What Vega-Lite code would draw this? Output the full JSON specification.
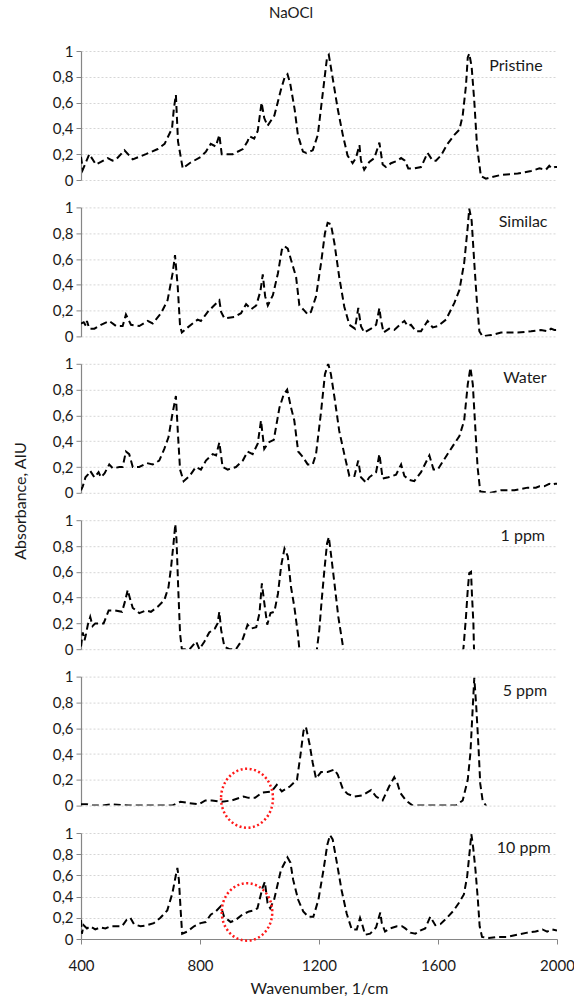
{
  "$schema": "https://vega.github.io/schema/vega-lite/v6.json",
  "padding": {"left": 13, "top": 6, "right": 5, "bottom": 3},
  "background": "white",
  "title": {"text": "Absorbance, AIU", "orient": "left", "anchor": "middle", "font": "Lato", "fontSize": 16, "fontWeight": "normal", "color": "#1a1a1a", "offset": 23},
  "bounds": "flush",
  "spacing": 27.4,
  "config": {
    "font": "Lato",
    "view": {"stroke": null},
    "axisY": {"grid": true, "gridColor": "#d6d6d6", "gridDash": [2, 2], "gridWidth": 1, "domainColor": "#868686", "domainWidth": 1.2, "tickColor": "#868686", "tickSize": 5, "labelFont": "Lato", "labelFontSize": 15, "labelColor": "#1a1a1a", "labelPadding": 3, "labelFlush": false, "labelOverlap": false, "tickCount": 5},
    "axisX": {"grid": false, "domainColor": "#868686", "domainWidth": 1.2, "tickColor": "#868686", "tickSize": 5, "labelFont": "Lato", "labelFontSize": 15, "labelColor": "#1a1a1a", "labelPadding": 14, "labelFlush": false, "labelOverlap": false, "titleFont": "Lato", "titleFontSize": 16, "titleFontWeight": "normal", "titleColor": "#1a1a1a", "titlePadding": 7}
  },
  "datasets": {
    "spectra": [
      {"sample":"Pristine","wavenumber":400,"absorbance":0.18},{"sample":"Pristine","wavenumber":406,"absorbance":0.08},{"sample":"Pristine","wavenumber":428,"absorbance":0.2},{"sample":"Pristine","wavenumber":450,"absorbance":0.12},{"sample":"Pristine","wavenumber":467,"absorbance":0.14},{"sample":"Pristine","wavenumber":490,"absorbance":0.17},{"sample":"Pristine","wavenumber":506,"absorbance":0.15},{"sample":"Pristine","wavenumber":518,"absorbance":0.16},{"sample":"Pristine","wavenumber":546,"absorbance":0.23},{"sample":"Pristine","wavenumber":574,"absorbance":0.16},{"sample":"Pristine","wavenumber":618,"absorbance":0.2},{"sample":"Pristine","wavenumber":658,"absorbance":0.24},{"sample":"Pristine","wavenumber":681,"absorbance":0.28},{"sample":"Pristine","wavenumber":706,"absorbance":0.4},{"sample":"Pristine","wavenumber":712,"absorbance":0.55},{"sample":"Pristine","wavenumber":719,"absorbance":0.66},{"sample":"Pristine","wavenumber":726,"absorbance":0.3},{"sample":"Pristine","wavenumber":742,"absorbance":0.09},{"sample":"Pristine","wavenumber":765,"absorbance":0.13},{"sample":"Pristine","wavenumber":803,"absorbance":0.18},{"sample":"Pristine","wavenumber":820,"absorbance":0.22},{"sample":"Pristine","wavenumber":836,"absorbance":0.28},{"sample":"Pristine","wavenumber":853,"absorbance":0.26},{"sample":"Pristine","wavenumber":865,"absorbance":0.35},{"sample":"Pristine","wavenumber":873,"absorbance":0.2},{"sample":"Pristine","wavenumber":910,"absorbance":0.2},{"sample":"Pristine","wavenumber":944,"absorbance":0.24},{"sample":"Pristine","wavenumber":960,"absorbance":0.3},{"sample":"Pristine","wavenumber":966,"absorbance":0.34},{"sample":"Pristine","wavenumber":982,"absorbance":0.32},{"sample":"Pristine","wavenumber":994,"absorbance":0.38},{"sample":"Pristine","wavenumber":1007,"absorbance":0.6},{"sample":"Pristine","wavenumber":1016,"absorbance":0.48},{"sample":"Pristine","wavenumber":1027,"absorbance":0.42},{"sample":"Pristine","wavenumber":1050,"absorbance":0.5},{"sample":"Pristine","wavenumber":1072,"absorbance":0.7},{"sample":"Pristine","wavenumber":1085,"absorbance":0.8},{"sample":"Pristine","wavenumber":1094,"absorbance":0.82},{"sample":"Pristine","wavenumber":1103,"absorbance":0.75},{"sample":"Pristine","wavenumber":1118,"absorbance":0.55},{"sample":"Pristine","wavenumber":1129,"absorbance":0.35},{"sample":"Pristine","wavenumber":1146,"absorbance":0.22},{"sample":"Pristine","wavenumber":1157,"absorbance":0.21},{"sample":"Pristine","wavenumber":1179,"absorbance":0.23},{"sample":"Pristine","wavenumber":1196,"absorbance":0.35},{"sample":"Pristine","wavenumber":1212,"absorbance":0.66},{"sample":"Pristine","wavenumber":1227,"absorbance":0.95},{"sample":"Pristine","wavenumber":1233,"absorbance":0.97},{"sample":"Pristine","wavenumber":1246,"absorbance":0.79},{"sample":"Pristine","wavenumber":1263,"absorbance":0.55},{"sample":"Pristine","wavenumber":1280,"absorbance":0.35},{"sample":"Pristine","wavenumber":1296,"absorbance":0.19},{"sample":"Pristine","wavenumber":1313,"absorbance":0.13},{"sample":"Pristine","wavenumber":1324,"absorbance":0.17},{"sample":"Pristine","wavenumber":1336,"absorbance":0.27},{"sample":"Pristine","wavenumber":1341,"absorbance":0.15},{"sample":"Pristine","wavenumber":1352,"absorbance":0.08},{"sample":"Pristine","wavenumber":1369,"absorbance":0.14},{"sample":"Pristine","wavenumber":1386,"absorbance":0.17},{"sample":"Pristine","wavenumber":1403,"absorbance":0.29},{"sample":"Pristine","wavenumber":1414,"absorbance":0.12},{"sample":"Pristine","wavenumber":1425,"absorbance":0.1},{"sample":"Pristine","wavenumber":1442,"absorbance":0.13},{"sample":"Pristine","wavenumber":1464,"absorbance":0.15},{"sample":"Pristine","wavenumber":1476,"absorbance":0.17},{"sample":"Pristine","wavenumber":1489,"absorbance":0.15},{"sample":"Pristine","wavenumber":1500,"absorbance":0.09},{"sample":"Pristine","wavenumber":1520,"absorbance":0.09},{"sample":"Pristine","wavenumber":1543,"absorbance":0.1},{"sample":"Pristine","wavenumber":1565,"absorbance":0.21},{"sample":"Pristine","wavenumber":1582,"absorbance":0.15},{"sample":"Pristine","wavenumber":1593,"absorbance":0.15},{"sample":"Pristine","wavenumber":1610,"absorbance":0.19},{"sample":"Pristine","wavenumber":1632,"absorbance":0.28},{"sample":"Pristine","wavenumber":1655,"absorbance":0.35},{"sample":"Pristine","wavenumber":1672,"absorbance":0.39},{"sample":"Pristine","wavenumber":1683,"absorbance":0.5},{"sample":"Pristine","wavenumber":1694,"absorbance":0.73},{"sample":"Pristine","wavenumber":1700,"absorbance":0.95},{"sample":"Pristine","wavenumber":1705,"absorbance":0.98},{"sample":"Pristine","wavenumber":1713,"absorbance":0.88},{"sample":"Pristine","wavenumber":1722,"absorbance":0.61},{"sample":"Pristine","wavenumber":1731,"absorbance":0.27},{"sample":"Pristine","wavenumber":1744,"absorbance":0.03},{"sample":"Pristine","wavenumber":1761,"absorbance":0.01},{"sample":"Pristine","wavenumber":1812,"absorbance":0.04},{"sample":"Pristine","wavenumber":1868,"absorbance":0.05},{"sample":"Pristine","wavenumber":1913,"absorbance":0.07},{"sample":"Pristine","wavenumber":1941,"absorbance":0.09},{"sample":"Pristine","wavenumber":1963,"absorbance":0.08},{"sample":"Pristine","wavenumber":1974,"absorbance":0.11},{"sample":"Pristine","wavenumber":1982,"absorbance":0.09},{"sample":"Pristine","wavenumber":1993,"absorbance":0.1},{"sample":"Pristine","wavenumber":2000,"absorbance":0.1},

      {"sample":"Similac","wavenumber":400,"absorbance":0.1},{"sample":"Similac","wavenumber":409,"absorbance":0.11},{"sample":"Similac","wavenumber":417,"absorbance":0.08},{"sample":"Similac","wavenumber":420,"absorbance":0.12},{"sample":"Similac","wavenumber":428,"absorbance":0.06},{"sample":"Similac","wavenumber":445,"absorbance":0.06},{"sample":"Similac","wavenumber":467,"absorbance":0.09},{"sample":"Similac","wavenumber":495,"absorbance":0.12},{"sample":"Similac","wavenumber":518,"absorbance":0.08},{"sample":"Similac","wavenumber":540,"absorbance":0.08},{"sample":"Similac","wavenumber":551,"absorbance":0.17},{"sample":"Similac","wavenumber":568,"absorbance":0.09},{"sample":"Similac","wavenumber":596,"absorbance":0.08},{"sample":"Similac","wavenumber":624,"absorbance":0.12},{"sample":"Similac","wavenumber":641,"absorbance":0.1},{"sample":"Similac","wavenumber":669,"absorbance":0.18},{"sample":"Similac","wavenumber":691,"absorbance":0.28},{"sample":"Similac","wavenumber":708,"absorbance":0.49},{"sample":"Similac","wavenumber":716,"absorbance":0.63},{"sample":"Similac","wavenumber":725,"absorbance":0.39},{"sample":"Similac","wavenumber":733,"absorbance":0.08},{"sample":"Similac","wavenumber":739,"absorbance":0.03},{"sample":"Similac","wavenumber":759,"absorbance":0.07},{"sample":"Similac","wavenumber":792,"absorbance":0.13},{"sample":"Similac","wavenumber":803,"absorbance":0.12},{"sample":"Similac","wavenumber":826,"absorbance":0.19},{"sample":"Similac","wavenumber":843,"absorbance":0.23},{"sample":"Similac","wavenumber":865,"absorbance":0.28},{"sample":"Similac","wavenumber":871,"absorbance":0.19},{"sample":"Similac","wavenumber":882,"absorbance":0.14},{"sample":"Similac","wavenumber":916,"absorbance":0.15},{"sample":"Similac","wavenumber":938,"absorbance":0.18},{"sample":"Similac","wavenumber":955,"absorbance":0.25},{"sample":"Similac","wavenumber":972,"absorbance":0.21},{"sample":"Similac","wavenumber":989,"absorbance":0.24},{"sample":"Similac","wavenumber":1003,"absorbance":0.35},{"sample":"Similac","wavenumber":1011,"absorbance":0.48},{"sample":"Similac","wavenumber":1019,"absorbance":0.31},{"sample":"Similac","wavenumber":1028,"absorbance":0.24},{"sample":"Similac","wavenumber":1045,"absorbance":0.32},{"sample":"Similac","wavenumber":1062,"absorbance":0.49},{"sample":"Similac","wavenumber":1075,"absorbance":0.67},{"sample":"Similac","wavenumber":1084,"absorbance":0.7},{"sample":"Similac","wavenumber":1095,"absorbance":0.68},{"sample":"Similac","wavenumber":1109,"absorbance":0.57},{"sample":"Similac","wavenumber":1123,"absorbance":0.46},{"sample":"Similac","wavenumber":1134,"absorbance":0.24},{"sample":"Similac","wavenumber":1151,"absorbance":0.2},{"sample":"Similac","wavenumber":1162,"absorbance":0.17},{"sample":"Similac","wavenumber":1173,"absorbance":0.19},{"sample":"Similac","wavenumber":1190,"absorbance":0.31},{"sample":"Similac","wavenumber":1207,"absorbance":0.57},{"sample":"Similac","wavenumber":1220,"absorbance":0.8},{"sample":"Similac","wavenumber":1229,"absorbance":0.88},{"sample":"Similac","wavenumber":1240,"absorbance":0.87},{"sample":"Similac","wavenumber":1252,"absorbance":0.72},{"sample":"Similac","wavenumber":1268,"absorbance":0.46},{"sample":"Similac","wavenumber":1285,"absorbance":0.23},{"sample":"Similac","wavenumber":1302,"absorbance":0.09},{"sample":"Similac","wavenumber":1321,"absorbance":0.06},{"sample":"Similac","wavenumber":1332,"absorbance":0.22},{"sample":"Similac","wavenumber":1341,"absorbance":0.08},{"sample":"Similac","wavenumber":1352,"absorbance":0.03},{"sample":"Similac","wavenumber":1375,"absorbance":0.06},{"sample":"Similac","wavenumber":1392,"absorbance":0.09},{"sample":"Similac","wavenumber":1403,"absorbance":0.22},{"sample":"Similac","wavenumber":1408,"absorbance":0.13},{"sample":"Similac","wavenumber":1417,"absorbance":0.03},{"sample":"Similac","wavenumber":1436,"absorbance":0.06},{"sample":"Similac","wavenumber":1453,"absorbance":0.05},{"sample":"Similac","wavenumber":1476,"absorbance":0.1},{"sample":"Similac","wavenumber":1487,"absorbance":0.12},{"sample":"Similac","wavenumber":1498,"absorbance":0.08},{"sample":"Similac","wavenumber":1509,"absorbance":0.09},{"sample":"Similac","wavenumber":1526,"absorbance":0.04},{"sample":"Similac","wavenumber":1543,"absorbance":0.04},{"sample":"Similac","wavenumber":1565,"absorbance":0.12},{"sample":"Similac","wavenumber":1582,"absorbance":0.07},{"sample":"Similac","wavenumber":1599,"absorbance":0.08},{"sample":"Similac","wavenumber":1627,"absorbance":0.13},{"sample":"Similac","wavenumber":1655,"absorbance":0.26},{"sample":"Similac","wavenumber":1672,"absorbance":0.36},{"sample":"Similac","wavenumber":1688,"absorbance":0.57},{"sample":"Similac","wavenumber":1700,"absorbance":0.85},{"sample":"Similac","wavenumber":1705,"absorbance":0.99},{"sample":"Similac","wavenumber":1713,"absorbance":0.9},{"sample":"Similac","wavenumber":1722,"absorbance":0.57},{"sample":"Similac","wavenumber":1731,"absorbance":0.26},{"sample":"Similac","wavenumber":1739,"absorbance":0.04},{"sample":"Similac","wavenumber":1750,"absorbance":0.0},{"sample":"Similac","wavenumber":1778,"absorbance":0.01},{"sample":"Similac","wavenumber":1812,"absorbance":0.03},{"sample":"Similac","wavenumber":1868,"absorbance":0.03},{"sample":"Similac","wavenumber":1913,"absorbance":0.04},{"sample":"Similac","wavenumber":1946,"absorbance":0.05},{"sample":"Similac","wavenumber":1969,"absorbance":0.04},{"sample":"Similac","wavenumber":1980,"absorbance":0.06},{"sample":"Similac","wavenumber":1991,"absorbance":0.05},{"sample":"Similac","wavenumber":2000,"absorbance":0.05},

      {"sample":"Water","wavenumber":400,"absorbance":0.02},{"sample":"Water","wavenumber":406,"absorbance":0.05},{"sample":"Water","wavenumber":415,"absorbance":0.12},{"sample":"Water","wavenumber":423,"absorbance":0.14},{"sample":"Water","wavenumber":431,"absorbance":0.17},{"sample":"Water","wavenumber":445,"absorbance":0.12},{"sample":"Water","wavenumber":459,"absorbance":0.16},{"sample":"Water","wavenumber":467,"absorbance":0.12},{"sample":"Water","wavenumber":479,"absorbance":0.15},{"sample":"Water","wavenumber":495,"absorbance":0.22},{"sample":"Water","wavenumber":507,"absorbance":0.19},{"sample":"Water","wavenumber":529,"absorbance":0.2},{"sample":"Water","wavenumber":540,"absorbance":0.2},{"sample":"Water","wavenumber":551,"absorbance":0.32},{"sample":"Water","wavenumber":562,"absorbance":0.3},{"sample":"Water","wavenumber":574,"absorbance":0.2},{"sample":"Water","wavenumber":596,"absorbance":0.2},{"sample":"Water","wavenumber":622,"absorbance":0.23},{"sample":"Water","wavenumber":641,"absorbance":0.22},{"sample":"Water","wavenumber":663,"absorbance":0.25},{"sample":"Water","wavenumber":680,"absorbance":0.34},{"sample":"Water","wavenumber":694,"absorbance":0.43},{"sample":"Water","wavenumber":708,"absorbance":0.62},{"sample":"Water","wavenumber":719,"absorbance":0.75},{"sample":"Water","wavenumber":726,"absorbance":0.45},{"sample":"Water","wavenumber":733,"absorbance":0.18},{"sample":"Water","wavenumber":745,"absorbance":0.09},{"sample":"Water","wavenumber":765,"absorbance":0.13},{"sample":"Water","wavenumber":786,"absorbance":0.2},{"sample":"Water","wavenumber":803,"absorbance":0.18},{"sample":"Water","wavenumber":820,"absorbance":0.25},{"sample":"Water","wavenumber":843,"absorbance":0.3},{"sample":"Water","wavenumber":854,"absorbance":0.29},{"sample":"Water","wavenumber":865,"absorbance":0.39},{"sample":"Water","wavenumber":876,"absorbance":0.2},{"sample":"Water","wavenumber":893,"absorbance":0.18},{"sample":"Water","wavenumber":921,"absorbance":0.2},{"sample":"Water","wavenumber":944,"absorbance":0.25},{"sample":"Water","wavenumber":960,"absorbance":0.32},{"sample":"Water","wavenumber":977,"absorbance":0.3},{"sample":"Water","wavenumber":994,"absorbance":0.38},{"sample":"Water","wavenumber":1005,"absorbance":0.56},{"sample":"Water","wavenumber":1016,"absorbance":0.34},{"sample":"Water","wavenumber":1030,"absorbance":0.39},{"sample":"Water","wavenumber":1048,"absorbance":0.41},{"sample":"Water","wavenumber":1067,"absorbance":0.66},{"sample":"Water","wavenumber":1081,"absorbance":0.76},{"sample":"Water","wavenumber":1093,"absorbance":0.8},{"sample":"Water","wavenumber":1106,"absorbance":0.66},{"sample":"Water","wavenumber":1117,"absorbance":0.56},{"sample":"Water","wavenumber":1130,"absorbance":0.32},{"sample":"Water","wavenumber":1145,"absorbance":0.28},{"sample":"Water","wavenumber":1162,"absorbance":0.22},{"sample":"Water","wavenumber":1179,"absorbance":0.22},{"sample":"Water","wavenumber":1190,"absorbance":0.3},{"sample":"Water","wavenumber":1207,"absorbance":0.63},{"sample":"Water","wavenumber":1220,"absorbance":0.92},{"sample":"Water","wavenumber":1231,"absorbance":1.0},{"sample":"Water","wavenumber":1240,"absorbance":0.92},{"sample":"Water","wavenumber":1252,"absorbance":0.74},{"sample":"Water","wavenumber":1268,"absorbance":0.48},{"sample":"Water","wavenumber":1285,"absorbance":0.3},{"sample":"Water","wavenumber":1302,"absorbance":0.13},{"sample":"Water","wavenumber":1319,"absorbance":0.13},{"sample":"Water","wavenumber":1332,"absorbance":0.25},{"sample":"Water","wavenumber":1341,"absorbance":0.12},{"sample":"Water","wavenumber":1358,"absorbance":0.08},{"sample":"Water","wavenumber":1369,"absorbance":0.12},{"sample":"Water","wavenumber":1392,"absorbance":0.16},{"sample":"Water","wavenumber":1403,"absorbance":0.3},{"sample":"Water","wavenumber":1414,"absorbance":0.11},{"sample":"Water","wavenumber":1433,"absorbance":0.12},{"sample":"Water","wavenumber":1459,"absorbance":0.14},{"sample":"Water","wavenumber":1476,"absorbance":0.22},{"sample":"Water","wavenumber":1487,"absorbance":0.13},{"sample":"Water","wavenumber":1504,"absorbance":0.1},{"sample":"Water","wavenumber":1520,"absorbance":0.09},{"sample":"Water","wavenumber":1543,"absorbance":0.16},{"sample":"Water","wavenumber":1571,"absorbance":0.29},{"sample":"Water","wavenumber":1585,"absorbance":0.18},{"sample":"Water","wavenumber":1599,"absorbance":0.18},{"sample":"Water","wavenumber":1621,"absorbance":0.26},{"sample":"Water","wavenumber":1649,"absorbance":0.36},{"sample":"Water","wavenumber":1672,"absorbance":0.44},{"sample":"Water","wavenumber":1688,"absorbance":0.56},{"sample":"Water","wavenumber":1700,"absorbance":0.84},{"sample":"Water","wavenumber":1709,"absorbance":0.97},{"sample":"Water","wavenumber":1717,"absorbance":0.84},{"sample":"Water","wavenumber":1724,"absorbance":0.56},{"sample":"Water","wavenumber":1733,"absorbance":0.2},{"sample":"Water","wavenumber":1742,"absorbance":0.01},{"sample":"Water","wavenumber":1778,"absorbance":0.0},{"sample":"Water","wavenumber":1812,"absorbance":0.02},{"sample":"Water","wavenumber":1857,"absorbance":0.02},{"sample":"Water","wavenumber":1901,"absorbance":0.04},{"sample":"Water","wavenumber":1929,"absorbance":0.04},{"sample":"Water","wavenumber":1941,"absorbance":0.05},{"sample":"Water","wavenumber":1957,"absorbance":0.05},{"sample":"Water","wavenumber":1974,"absorbance":0.07},{"sample":"Water","wavenumber":1985,"absorbance":0.06},{"sample":"Water","wavenumber":1993,"absorbance":0.07},{"sample":"Water","wavenumber":2000,"absorbance":0.07},

      {"sample":"1 ppm","wavenumber":400,"absorbance":0.02},{"sample":"1 ppm","wavenumber":406,"absorbance":0.13},{"sample":"1 ppm","wavenumber":412,"absorbance":0.07},{"sample":"1 ppm","wavenumber":417,"absorbance":0.12},{"sample":"1 ppm","wavenumber":423,"absorbance":0.19},{"sample":"1 ppm","wavenumber":431,"absorbance":0.25},{"sample":"1 ppm","wavenumber":439,"absorbance":0.18},{"sample":"1 ppm","wavenumber":448,"absorbance":0.2},{"sample":"1 ppm","wavenumber":459,"absorbance":0.2},{"sample":"1 ppm","wavenumber":476,"absorbance":0.2},{"sample":"1 ppm","wavenumber":493,"absorbance":0.3},{"sample":"1 ppm","wavenumber":515,"absorbance":0.3},{"sample":"1 ppm","wavenumber":538,"absorbance":0.29},{"sample":"1 ppm","wavenumber":549,"absorbance":0.38},{"sample":"1 ppm","wavenumber":557,"absorbance":0.46},{"sample":"1 ppm","wavenumber":565,"absorbance":0.39},{"sample":"1 ppm","wavenumber":574,"absorbance":0.32},{"sample":"1 ppm","wavenumber":596,"absorbance":0.28},{"sample":"1 ppm","wavenumber":618,"absorbance":0.3},{"sample":"1 ppm","wavenumber":635,"absorbance":0.29},{"sample":"1 ppm","wavenumber":658,"absorbance":0.33},{"sample":"1 ppm","wavenumber":680,"absorbance":0.38},{"sample":"1 ppm","wavenumber":694,"absorbance":0.48},{"sample":"1 ppm","wavenumber":703,"absorbance":0.64},{"sample":"1 ppm","wavenumber":711,"absorbance":0.82},{"sample":"1 ppm","wavenumber":717,"absorbance":0.97},{"sample":"1 ppm","wavenumber":721,"absorbance":0.85},{"sample":"1 ppm","wavenumber":727,"absorbance":0.46},{"sample":"1 ppm","wavenumber":733,"absorbance":0.12},{"sample":"1 ppm","wavenumber":739,"absorbance":0.0},{"sample":"1 ppm","wavenumber":765,"absorbance":0.0},{"sample":"1 ppm","wavenumber":787,"absorbance":0.06},{"sample":"1 ppm","wavenumber":798,"absorbance":0.0},{"sample":"1 ppm","wavenumber":815,"absorbance":0.06},{"sample":"1 ppm","wavenumber":831,"absorbance":0.13},{"sample":"1 ppm","wavenumber":850,"absorbance":0.16},{"sample":"1 ppm","wavenumber":859,"absorbance":0.2},{"sample":"1 ppm","wavenumber":865,"absorbance":0.29},{"sample":"1 ppm","wavenumber":871,"absorbance":0.15},{"sample":"1 ppm","wavenumber":882,"absorbance":0.02},{"sample":"1 ppm","wavenumber":899,"absorbance":0.0},{"sample":"1 ppm","wavenumber":921,"absorbance":0.0},{"sample":"1 ppm","wavenumber":944,"absorbance":0.08},{"sample":"1 ppm","wavenumber":960,"absorbance":0.19},{"sample":"1 ppm","wavenumber":972,"absorbance":0.16},{"sample":"1 ppm","wavenumber":989,"absorbance":0.17},{"sample":"1 ppm","wavenumber":1000,"absorbance":0.28},{"sample":"1 ppm","wavenumber":1008,"absorbance":0.51},{"sample":"1 ppm","wavenumber":1015,"absorbance":0.38},{"sample":"1 ppm","wavenumber":1026,"absorbance":0.19},{"sample":"1 ppm","wavenumber":1037,"absorbance":0.28},{"sample":"1 ppm","wavenumber":1050,"absorbance":0.29},{"sample":"1 ppm","wavenumber":1062,"absorbance":0.43},{"sample":"1 ppm","wavenumber":1073,"absorbance":0.65},{"sample":"1 ppm","wavenumber":1084,"absorbance":0.78},{"sample":"1 ppm","wavenumber":1095,"absorbance":0.72},{"sample":"1 ppm","wavenumber":1106,"absorbance":0.48},{"sample":"1 ppm","wavenumber":1117,"absorbance":0.33},{"sample":"1 ppm","wavenumber":1129,"absorbance":0.12},{"sample":"1 ppm","wavenumber":1134,"absorbance":0.0},{"sample":"1 ppm","wavenumber":1160,"absorbance":-0.3},{"sample":"1 ppm","wavenumber":1180,"absorbance":-0.3},{"sample":"1 ppm","wavenumber":1193,"absorbance":0.0},{"sample":"1 ppm","wavenumber":1201,"absorbance":0.15},{"sample":"1 ppm","wavenumber":1209,"absorbance":0.38},{"sample":"1 ppm","wavenumber":1218,"absorbance":0.61},{"sample":"1 ppm","wavenumber":1227,"absorbance":0.82},{"sample":"1 ppm","wavenumber":1233,"absorbance":0.87},{"sample":"1 ppm","wavenumber":1240,"absorbance":0.74},{"sample":"1 ppm","wavenumber":1252,"absorbance":0.51},{"sample":"1 ppm","wavenumber":1265,"absorbance":0.25},{"sample":"1 ppm","wavenumber":1280,"absorbance":0.03},{"sample":"1 ppm","wavenumber":1295,"absorbance":-0.3},{"sample":"1 ppm","wavenumber":1670,"absorbance":-0.3},{"sample":"1 ppm","wavenumber":1686,"absorbance":0.02},{"sample":"1 ppm","wavenumber":1694,"absorbance":0.25},{"sample":"1 ppm","wavenumber":1700,"absorbance":0.46},{"sample":"1 ppm","wavenumber":1705,"absorbance":0.59},{"sample":"1 ppm","wavenumber":1711,"absorbance":0.6},{"sample":"1 ppm","wavenumber":1714,"absorbance":0.43},{"sample":"1 ppm","wavenumber":1719,"absorbance":0.2},{"sample":"1 ppm","wavenumber":1721,"absorbance":0.0},{"sample":"1 ppm","wavenumber":1740,"absorbance":-0.3},{"sample":"1 ppm","wavenumber":2000,"absorbance":-0.3},

      {"sample":"5 ppm","wavenumber":400,"absorbance":0.01},{"sample":"5 ppm","wavenumber":420,"absorbance":0.01},{"sample":"5 ppm","wavenumber":437,"absorbance":0.0},{"sample":"5 ppm","wavenumber":470,"absorbance":0.0},{"sample":"5 ppm","wavenumber":504,"absorbance":0.01},{"sample":"5 ppm","wavenumber":560,"absorbance":0.0},{"sample":"5 ppm","wavenumber":706,"absorbance":0.0},{"sample":"5 ppm","wavenumber":734,"absorbance":0.03},{"sample":"5 ppm","wavenumber":762,"absorbance":0.02},{"sample":"5 ppm","wavenumber":796,"absorbance":0.01},{"sample":"5 ppm","wavenumber":818,"absorbance":0.04},{"sample":"5 ppm","wavenumber":840,"absorbance":0.04},{"sample":"5 ppm","wavenumber":874,"absorbance":0.03},{"sample":"5 ppm","wavenumber":907,"absorbance":0.04},{"sample":"5 ppm","wavenumber":946,"absorbance":0.07},{"sample":"5 ppm","wavenumber":963,"absorbance":0.06},{"sample":"5 ppm","wavenumber":985,"absorbance":0.06},{"sample":"5 ppm","wavenumber":1008,"absorbance":0.1},{"sample":"5 ppm","wavenumber":1041,"absorbance":0.11},{"sample":"5 ppm","wavenumber":1058,"absorbance":0.16},{"sample":"5 ppm","wavenumber":1075,"absorbance":0.11},{"sample":"5 ppm","wavenumber":1103,"absorbance":0.15},{"sample":"5 ppm","wavenumber":1126,"absorbance":0.2},{"sample":"5 ppm","wavenumber":1137,"absorbance":0.38},{"sample":"5 ppm","wavenumber":1148,"absorbance":0.58},{"sample":"5 ppm","wavenumber":1156,"absorbance":0.61},{"sample":"5 ppm","wavenumber":1168,"absorbance":0.48},{"sample":"5 ppm","wavenumber":1179,"absorbance":0.33},{"sample":"5 ppm","wavenumber":1190,"absorbance":0.21},{"sample":"5 ppm","wavenumber":1207,"absorbance":0.26},{"sample":"5 ppm","wavenumber":1229,"absorbance":0.26},{"sample":"5 ppm","wavenumber":1252,"absorbance":0.28},{"sample":"5 ppm","wavenumber":1263,"absorbance":0.24},{"sample":"5 ppm","wavenumber":1280,"absorbance":0.13},{"sample":"5 ppm","wavenumber":1296,"absorbance":0.09},{"sample":"5 ppm","wavenumber":1319,"absorbance":0.07},{"sample":"5 ppm","wavenumber":1347,"absorbance":0.08},{"sample":"5 ppm","wavenumber":1375,"absorbance":0.12},{"sample":"5 ppm","wavenumber":1392,"absorbance":0.07},{"sample":"5 ppm","wavenumber":1414,"absorbance":0.04},{"sample":"5 ppm","wavenumber":1436,"absorbance":0.15},{"sample":"5 ppm","wavenumber":1453,"absorbance":0.22},{"sample":"5 ppm","wavenumber":1464,"absorbance":0.17},{"sample":"5 ppm","wavenumber":1473,"absorbance":0.1},{"sample":"5 ppm","wavenumber":1492,"absorbance":0.04},{"sample":"5 ppm","wavenumber":1515,"absorbance":0.0},{"sample":"5 ppm","wavenumber":1565,"absorbance":0.0},{"sample":"5 ppm","wavenumber":1610,"absorbance":0.0},{"sample":"5 ppm","wavenumber":1660,"absorbance":0.0},{"sample":"5 ppm","wavenumber":1683,"absorbance":0.04},{"sample":"5 ppm","wavenumber":1700,"absorbance":0.2},{"sample":"5 ppm","wavenumber":1709,"absorbance":0.41},{"sample":"5 ppm","wavenumber":1717,"absorbance":0.77},{"sample":"5 ppm","wavenumber":1722,"absorbance":0.99},{"sample":"5 ppm","wavenumber":1728,"absorbance":0.79},{"sample":"5 ppm","wavenumber":1736,"absorbance":0.46},{"sample":"5 ppm","wavenumber":1742,"absorbance":0.17},{"sample":"5 ppm","wavenumber":1750,"absorbance":0.04},{"sample":"5 ppm","wavenumber":1761,"absorbance":0.0},{"sample":"5 ppm","wavenumber":1775,"absorbance":-0.2},{"sample":"5 ppm","wavenumber":2000,"absorbance":-0.2},

      {"sample":"10 ppm","wavenumber":400,"absorbance":0.18},{"sample":"10 ppm","wavenumber":403,"absorbance":0.05},{"sample":"10 ppm","wavenumber":409,"absorbance":0.13},{"sample":"10 ppm","wavenumber":420,"absorbance":0.1},{"sample":"10 ppm","wavenumber":431,"absorbance":0.12},{"sample":"10 ppm","wavenumber":448,"absorbance":0.09},{"sample":"10 ppm","wavenumber":465,"absorbance":0.11},{"sample":"10 ppm","wavenumber":482,"absorbance":0.1},{"sample":"10 ppm","wavenumber":499,"absorbance":0.12},{"sample":"10 ppm","wavenumber":521,"absorbance":0.12},{"sample":"10 ppm","wavenumber":538,"absorbance":0.12},{"sample":"10 ppm","wavenumber":553,"absorbance":0.18},{"sample":"10 ppm","wavenumber":566,"absorbance":0.2},{"sample":"10 ppm","wavenumber":578,"absorbance":0.14},{"sample":"10 ppm","wavenumber":600,"absorbance":0.12},{"sample":"10 ppm","wavenumber":622,"absorbance":0.13},{"sample":"10 ppm","wavenumber":645,"absorbance":0.15},{"sample":"10 ppm","wavenumber":667,"absorbance":0.2},{"sample":"10 ppm","wavenumber":690,"absorbance":0.27},{"sample":"10 ppm","wavenumber":707,"absorbance":0.43},{"sample":"10 ppm","wavenumber":718,"absorbance":0.59},{"sample":"10 ppm","wavenumber":724,"absorbance":0.67},{"sample":"10 ppm","wavenumber":729,"absorbance":0.56},{"sample":"10 ppm","wavenumber":735,"absorbance":0.27},{"sample":"10 ppm","wavenumber":740,"absorbance":0.05},{"sample":"10 ppm","wavenumber":757,"absorbance":0.07},{"sample":"10 ppm","wavenumber":780,"absorbance":0.12},{"sample":"10 ppm","wavenumber":802,"absorbance":0.15},{"sample":"10 ppm","wavenumber":819,"absorbance":0.16},{"sample":"10 ppm","wavenumber":836,"absorbance":0.23},{"sample":"10 ppm","wavenumber":853,"absorbance":0.26},{"sample":"10 ppm","wavenumber":870,"absorbance":0.31},{"sample":"10 ppm","wavenumber":881,"absorbance":0.21},{"sample":"10 ppm","wavenumber":903,"absorbance":0.16},{"sample":"10 ppm","wavenumber":920,"absorbance":0.18},{"sample":"10 ppm","wavenumber":942,"absorbance":0.23},{"sample":"10 ppm","wavenumber":965,"absorbance":0.26},{"sample":"10 ppm","wavenumber":982,"absorbance":0.27},{"sample":"10 ppm","wavenumber":993,"absorbance":0.29},{"sample":"10 ppm","wavenumber":1010,"absorbance":0.48},{"sample":"10 ppm","wavenumber":1018,"absorbance":0.54},{"sample":"10 ppm","wavenumber":1027,"absorbance":0.34},{"sample":"10 ppm","wavenumber":1036,"absorbance":0.29},{"sample":"10 ppm","wavenumber":1049,"absorbance":0.37},{"sample":"10 ppm","wavenumber":1072,"absorbance":0.65},{"sample":"10 ppm","wavenumber":1094,"absorbance":0.77},{"sample":"10 ppm","wavenumber":1104,"absorbance":0.72},{"sample":"10 ppm","wavenumber":1113,"absorbance":0.56},{"sample":"10 ppm","wavenumber":1130,"absorbance":0.37},{"sample":"10 ppm","wavenumber":1147,"absorbance":0.26},{"sample":"10 ppm","wavenumber":1164,"absorbance":0.21},{"sample":"10 ppm","wavenumber":1181,"absorbance":0.21},{"sample":"10 ppm","wavenumber":1198,"absorbance":0.37},{"sample":"10 ppm","wavenumber":1215,"absorbance":0.65},{"sample":"10 ppm","wavenumber":1228,"absorbance":0.89},{"sample":"10 ppm","wavenumber":1237,"absorbance":0.98},{"sample":"10 ppm","wavenumber":1246,"absorbance":0.94},{"sample":"10 ppm","wavenumber":1260,"absorbance":0.72},{"sample":"10 ppm","wavenumber":1276,"absorbance":0.46},{"sample":"10 ppm","wavenumber":1293,"absorbance":0.24},{"sample":"10 ppm","wavenumber":1310,"absorbance":0.09},{"sample":"10 ppm","wavenumber":1327,"absorbance":0.09},{"sample":"10 ppm","wavenumber":1338,"absorbance":0.2},{"sample":"10 ppm","wavenumber":1344,"absorbance":0.15},{"sample":"10 ppm","wavenumber":1355,"absorbance":0.04},{"sample":"10 ppm","wavenumber":1372,"absorbance":0.05},{"sample":"10 ppm","wavenumber":1392,"absorbance":0.11},{"sample":"10 ppm","wavenumber":1406,"absorbance":0.25},{"sample":"10 ppm","wavenumber":1411,"absorbance":0.15},{"sample":"10 ppm","wavenumber":1422,"absorbance":0.07},{"sample":"10 ppm","wavenumber":1439,"absorbance":0.1},{"sample":"10 ppm","wavenumber":1462,"absorbance":0.12},{"sample":"10 ppm","wavenumber":1479,"absorbance":0.12},{"sample":"10 ppm","wavenumber":1490,"absorbance":0.1},{"sample":"10 ppm","wavenumber":1507,"absorbance":0.06},{"sample":"10 ppm","wavenumber":1524,"absorbance":0.05},{"sample":"10 ppm","wavenumber":1540,"absorbance":0.08},{"sample":"10 ppm","wavenumber":1557,"absorbance":0.1},{"sample":"10 ppm","wavenumber":1574,"absorbance":0.21},{"sample":"10 ppm","wavenumber":1591,"absorbance":0.13},{"sample":"10 ppm","wavenumber":1608,"absorbance":0.14},{"sample":"10 ppm","wavenumber":1630,"absorbance":0.2},{"sample":"10 ppm","wavenumber":1653,"absorbance":0.27},{"sample":"10 ppm","wavenumber":1670,"absorbance":0.34},{"sample":"10 ppm","wavenumber":1687,"absorbance":0.42},{"sample":"10 ppm","wavenumber":1698,"absorbance":0.59},{"sample":"10 ppm","wavenumber":1707,"absorbance":0.84},{"sample":"10 ppm","wavenumber":1712,"absorbance":0.99},{"sample":"10 ppm","wavenumber":1718,"absorbance":0.87},{"sample":"10 ppm","wavenumber":1726,"absorbance":0.65},{"sample":"10 ppm","wavenumber":1734,"absorbance":0.37},{"sample":"10 ppm","wavenumber":1740,"absorbance":0.12},{"sample":"10 ppm","wavenumber":1748,"absorbance":0.02},{"sample":"10 ppm","wavenumber":1771,"absorbance":0.01},{"sample":"10 ppm","wavenumber":1799,"absorbance":0.02},{"sample":"10 ppm","wavenumber":1833,"absorbance":0.02},{"sample":"10 ppm","wavenumber":1866,"absorbance":0.04},{"sample":"10 ppm","wavenumber":1900,"absorbance":0.06},{"sample":"10 ppm","wavenumber":1928,"absorbance":0.07},{"sample":"10 ppm","wavenumber":1951,"absorbance":0.09},{"sample":"10 ppm","wavenumber":1967,"absorbance":0.07},{"sample":"10 ppm","wavenumber":1984,"absorbance":0.09},{"sample":"10 ppm","wavenumber":2000,"absorbance":0.08}
    ]
  },
  "vconcat": [
    {
      "width": 476, "height": 129,
      "title": {"text": "NaOCl", "anchor": "middle", "font": "Lato", "fontSize": 15, "fontWeight": "normal", "color": "#1a1a1a", "offset": 23, "dx": -28},
      "layer": [
        {"data": {"name": "spectra"}, "transform": [{"filter": "datum.sample === 'Pristine'"}], "mark": {"type": "line", "color": "#000000", "strokeWidth": 2, "strokeDash": [7, 4], "clip": true}, "encoding": {"x": {"field": "wavenumber", "type": "quantitative", "scale": {"domain": [400, 2000]}, "axis": null}, "y": {"field": "absorbance", "type": "quantitative", "scale": {"domain": [0, 1]}, "title": null, "axis": {"tickCount": 5, "labelOverlap": false, "labelExpr": "replace(format(datum.value,'.1~f'),'.',',')"}}}},
        {"data": {"values": [{"label": "Pristine"}]}, "mark": {"type": "text", "font": "Lato", "fontSize": 16, "color": "#1a1a1a", "align": "center", "baseline": "middle"}, "encoding": {"x": {"datum": 1862}, "y": {"datum": 0.88}, "text": {"field": "label"}}}
      ]
    },
    {
      "width": 476, "height": 129,
      "layer": [
        {"data": {"name": "spectra"}, "transform": [{"filter": "datum.sample === 'Similac'"}], "mark": {"type": "line", "color": "#000000", "strokeWidth": 2, "strokeDash": [7, 4], "clip": true}, "encoding": {"x": {"field": "wavenumber", "type": "quantitative", "scale": {"domain": [400, 2000]}, "axis": null}, "y": {"field": "absorbance", "type": "quantitative", "scale": {"domain": [0, 1]}, "title": null, "axis": {"tickCount": 5, "labelOverlap": false, "labelExpr": "replace(format(datum.value,'.1~f'),'.',',')"}}}},
        {"data": {"values": [{"label": "Similac"}]}, "mark": {"type": "text", "font": "Lato", "fontSize": 16, "color": "#1a1a1a", "align": "center", "baseline": "middle"}, "encoding": {"x": {"datum": 1886}, "y": {"datum": 0.89}, "text": {"field": "label"}}}
      ]
    },
    {
      "width": 476, "height": 129,
      "layer": [
        {"data": {"name": "spectra"}, "transform": [{"filter": "datum.sample === 'Water'"}], "mark": {"type": "line", "color": "#000000", "strokeWidth": 2, "strokeDash": [7, 4], "clip": true}, "encoding": {"x": {"field": "wavenumber", "type": "quantitative", "scale": {"domain": [400, 2000]}, "axis": null}, "y": {"field": "absorbance", "type": "quantitative", "scale": {"domain": [0, 1]}, "title": null, "axis": {"tickCount": 5, "labelOverlap": false, "labelExpr": "replace(format(datum.value,'.1~f'),'.',',')"}}}},
        {"data": {"values": [{"label": "Water"}]}, "mark": {"type": "text", "font": "Lato", "fontSize": 16, "color": "#1a1a1a", "align": "center", "baseline": "middle"}, "encoding": {"x": {"datum": 1892}, "y": {"datum": 0.89}, "text": {"field": "label"}}}
      ]
    },
    {
      "width": 476, "height": 129,
      "layer": [
        {"data": {"name": "spectra"}, "transform": [{"filter": "datum.sample === '1 ppm'"}], "mark": {"type": "line", "color": "#000000", "strokeWidth": 2, "strokeDash": [7, 4], "clip": true}, "encoding": {"x": {"field": "wavenumber", "type": "quantitative", "scale": {"domain": [400, 2000]}, "axis": null}, "y": {"field": "absorbance", "type": "quantitative", "scale": {"domain": [0, 1]}, "title": null, "axis": {"tickCount": 5, "labelOverlap": false, "labelExpr": "replace(format(datum.value,'.1~f'),'.',',')"}}}},
        {"data": {"values": [{"label": "1 ppm"}]}, "mark": {"type": "text", "font": "Lato", "fontSize": 16, "color": "#1a1a1a", "align": "center", "baseline": "middle"}, "encoding": {"x": {"datum": 1885}, "y": {"datum": 0.88}, "text": {"field": "label"}}}
      ]
    },
    {
      "width": 476, "height": 129,
      "layer": [
        {"data": {"name": "spectra"}, "transform": [{"filter": "datum.sample === '5 ppm'"}], "mark": {"type": "line", "color": "#000000", "strokeWidth": 2, "strokeDash": [7, 4], "clip": true}, "encoding": {"x": {"field": "wavenumber", "type": "quantitative", "scale": {"domain": [400, 2000]}, "axis": null}, "y": {"field": "absorbance", "type": "quantitative", "scale": {"domain": [0, 1]}, "title": null, "axis": {"tickCount": 5, "labelOverlap": false, "labelExpr": "replace(format(datum.value,'.1~f'),'.',',')"}}}},
        {"data": {"values": [{"label": "5 ppm"}]}, "mark": {"type": "text", "font": "Lato", "fontSize": 16, "color": "#1a1a1a", "align": "center", "baseline": "middle"}, "encoding": {"x": {"datum": 1892}, "y": {"datum": 0.89}, "text": {"field": "label"}}},
        {"data": {"values": [{"note": "highlight"}]}, "mark": {"type": "point", "shape": "M-0.88,0A0.88,1,0,1,0,0.88,0A0.88,1,0,1,0,-0.88,0Z", "size": 3480, "filled": false, "stroke": "#ff1a1a", "strokeWidth": 2.5, "strokeDash": [2, 2.5], "opacity": 1}, "encoding": {"x": {"datum": 958}, "y": {"datum": 0.057}}}
      ]
    },
    {
      "width": 476, "height": 106,
      "layer": [
        {"data": {"name": "spectra"}, "transform": [{"filter": "datum.sample === '10 ppm'"}], "mark": {"type": "line", "color": "#000000", "strokeWidth": 2, "strokeDash": [7, 4], "clip": true}, "encoding": {"x": {"field": "wavenumber", "type": "quantitative", "scale": {"domain": [400, 2000]}, "axis": {"title": "Wavenumber, 1/cm", "values": [400, 800, 1200, 1600, 2000], "format": "d"}}, "y": {"field": "absorbance", "type": "quantitative", "scale": {"domain": [0, 1]}, "title": null, "axis": {"tickCount": 5, "labelOverlap": false, "labelExpr": "replace(format(datum.value,'.1~f'),'.',',')"}}}},
        {"data": {"values": [{"label": "10 ppm"}]}, "mark": {"type": "text", "font": "Lato", "fontSize": 16, "color": "#1a1a1a", "align": "center", "baseline": "middle"}, "encoding": {"x": {"datum": 1888}, "y": {"datum": 0.86}, "text": {"field": "label"}}},
        {"data": {"values": [{"note": "highlight"}]}, "mark": {"type": "point", "shape": "M-0.88,0A0.88,1,0,1,0,0.88,0A0.88,1,0,1,0,-0.88,0Z", "size": 3300, "filled": false, "stroke": "#ff1a1a", "strokeWidth": 2.5, "strokeDash": [2, 2.5], "opacity": 1}, "encoding": {"x": {"datum": 958}, "y": {"datum": 0.255}}}
      ]
    }
  ]
}
